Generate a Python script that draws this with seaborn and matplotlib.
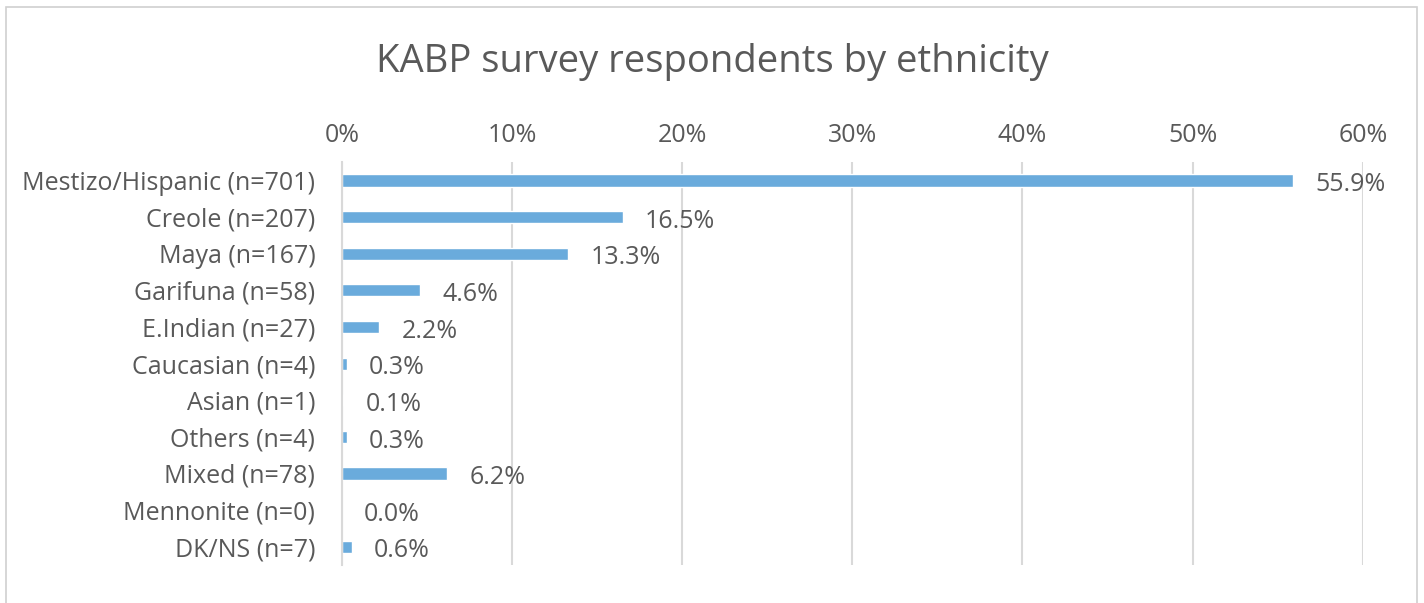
import matplotlib
import matplotlib.pyplot as plt
import pandas as pd
import seaborn as sns
from matplotlib.patches import Rectangle
from matplotlib.ticker import PercentFormatter

matplotlib.use("Agg")

categories = [
    "Mestizo/Hispanic (n=701)",
    "Creole (n=207)",
    "Maya (n=167)",
    "Garifuna (n=58)",
    "E.Indian (n=27)",
    "Caucasian (n=4)",
    "Asian (n=1)",
    "Others (n=4)",
    "Mixed (n=78)",
    "Mennonite (n=0)",
    "DK/NS (n=7)",
]
shares = [55.9, 16.5, 13.3, 4.6, 2.2, 0.3, 0.1, 0.3, 6.2, 0.0, 0.6]
title = "KABP survey respondents by ethnicity"

sns.set_theme(style="white")
plt.rcParams["font.family"] = ["Open Sans", "DejaVu Sans"]
grey = "#595959"

df = pd.DataFrame({"group": categories, "share": shares})

fig = plt.figure(figsize=(14.24, 6.03), dpi=100)
ax = fig.add_axes([0.240, 0.063, 0.717, 0.668])
sns.barplot(data=df, y="group", x="share", color="#6AABDC", width=0.33,
            saturation=1, ax=ax)

ax.set_xlim(0, 60)
ax.set_ylim(10.5, -0.5)
ax.xaxis.tick_top()
ax.xaxis.set_major_formatter(PercentFormatter(decimals=0))
ax.set_xticks(range(0, 61, 10))
ax.grid(axis="x", color="#D9D9D9", linewidth=1.5)
ax.set_axisbelow(True)
for side in ("top", "right", "bottom"):
    ax.spines[side].set_visible(False)
ax.spines["left"].set_color("#D9D9D9")
ax.spines["left"].set_linewidth(1.5)
ax.tick_params(axis="both", length=0, labelsize=18, labelcolor=grey)
ax.tick_params(axis="y", pad=19)
ax.tick_params(axis="x", pad=10)
ax.set(xlabel="", ylabel="")

for i, v in enumerate(shares):
    ax.annotate(f"{v:.1f}%", (v, i), xytext=(16, -3), textcoords="offset points",
                va="center", ha="left", fontsize=18, color=grey)

fig.text(0.5, 0.897, title, ha="center", va="center", fontsize=27.5, color=grey)
fig.patches.append(Rectangle((0.004, -0.01), 0.991, 0.998, transform=fig.transFigure,
                             fill=False, edgecolor="#D0D0D0", linewidth=1.2))

fig.savefig("out.png", dpi=100)
plt.close(fig)
